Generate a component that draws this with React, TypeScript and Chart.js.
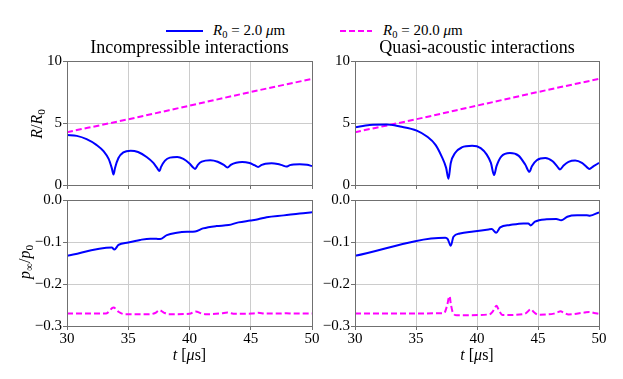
import React, { useEffect, useRef } from "react";
import { Chart, registerables } from "chart.js";

Chart.register(...registerables);

// ---------------- data ----------------
const tIncSmall = [30, 30.8, 31.6, 32.4, 33.0, 33.4, 33.65, 33.8, 33.92, 34.2, 34.6, 35.2, 35.8, 36.5, 37.05, 37.35, 37.55, 37.68, 38.0, 38.4, 39.0, 39.5, 40.0, 40.3, 40.46, 40.7, 41.0, 41.7, 42.3, 42.8, 43.1, 43.4, 43.8, 44.3, 44.9, 45.3, 45.6, 45.9, 46.2, 46.7, 47.2, 47.6, 47.9, 48.2, 48.5, 49.0, 49.6, 50];
const rIncSmall = [4.04, 3.96, 3.70, 3.24, 2.71, 2.10, 1.38, 0.85, 1.38, 2.18, 2.63, 2.77, 2.66, 2.26, 1.78, 1.38, 1.12, 1.46, 1.97, 2.21, 2.26, 2.10, 1.73, 1.41, 1.30, 1.65, 1.88, 2.0, 1.88, 1.62, 1.41, 1.65, 1.80, 1.86, 1.77, 1.60, 1.46, 1.62, 1.72, 1.76, 1.70, 1.58, 1.49, 1.60, 1.66, 1.68, 1.63, 1.52];

const tIncLarge = [30, 35, 40, 45, 50];
const rIncLarge = [4.26, 5.3, 6.4, 7.5, 8.56];

const tQaSmall = [30, 31.2, 32.6, 33.7, 35.06, 35.9, 36.6, 37.1, 37.47, 37.66, 37.85, 38.2, 38.75, 39.6, 40.3, 40.8, 41.14, 41.4, 41.6, 42.0, 42.7, 43.4, 43.95, 44.3, 44.5, 44.9, 45.6, 46.2, 46.6, 46.8, 47.1, 47.5, 48.05, 48.6, 49.0, 49.2, 49.56, 50];
const rQaSmall = [4.65, 4.84, 4.87, 4.71, 4.39, 3.91, 3.24, 2.31, 1.38, 0.5, 1.78, 2.58, 3.03, 3.16, 2.98, 2.45, 1.78, 0.8, 1.52, 2.31, 2.58, 2.37, 1.65, 1.06, 1.52, 2.0, 2.18, 1.91, 1.46, 1.25, 1.57, 1.86, 1.97, 1.78, 1.44, 1.30, 1.52, 1.78];

const tQaLarge = [30, 35, 40, 45, 50];
const rQaLarge = [4.26, 5.3, 6.4, 7.5, 8.56];

const tIncPSmall = [30, 33.65, 33.87, 34.2, 35, 35.97, 36.8, 37.3, 37.6, 38.15, 38.97, 39.8, 40.46, 41.1, 42.2, 43.2, 44.0, 44.96, 45.6, 46.3, 47.7, 49.0, 50];
const pIncSmall = [-0.133, -0.113, -0.118, -0.107, -0.101, -0.095, -0.092, -0.0925, -0.093, -0.0835, -0.078, -0.0756, -0.0748, -0.0676, -0.062, -0.0597, -0.0533, -0.049, -0.046, -0.041, -0.0366, -0.032, -0.0294];

const tIncPLarge = [30, 33.2, 33.8, 34.2, 34.7, 36.7, 37.2, 37.55, 37.9, 38.3, 40.0, 40.5, 41.0, 41.4, 42.6, 43.1, 43.7, 45.1, 45.6, 46.2, 47.4, 47.9, 48.5, 50];
const pIncLarge = [-0.2705, -0.270, -0.256, -0.266, -0.272, -0.272, -0.269, -0.2625, -0.268, -0.272, -0.271, -0.2657, -0.270, -0.272, -0.270, -0.268, -0.271, -0.2705, -0.2685, -0.2705, -0.2705, -0.2695, -0.2705, -0.2705];

const tQaPSmall = [30, 37.4, 37.6, 37.85, 38.07, 38.6, 39.7, 40.95, 41.2, 41.57, 41.9, 42.7, 43.8, 44.2, 44.4, 44.75, 45.7, 46.5, 46.9, 47.4, 48.2, 49.0, 49.25, 50];
const pQaSmall = [-0.133, -0.090, -0.093, -0.109, -0.0875, -0.0796, -0.0748, -0.070, -0.0692, -0.078, -0.0652, -0.0597, -0.0557, -0.0557, -0.0605, -0.0517, -0.046, -0.0453, -0.0485, -0.0398, -0.0366, -0.0366, -0.0374, -0.0294];

const tQaPLarge = [30, 37.3, 37.52, 37.75, 37.85, 38.0, 38.35, 41.0, 41.3, 41.6, 41.8, 42.1, 43.9, 44.15, 44.4, 44.7, 45.0, 46.3, 46.6, 46.85, 47.1, 47.5, 48.8, 49.2, 49.6, 50];
const pQaPLarge = [-0.2705, -0.2695, -0.2546, -0.229, -0.2466, -0.2665, -0.2745, -0.2725, -0.265, -0.252, -0.263, -0.274, -0.271, -0.266, -0.260, -0.268, -0.273, -0.2705, -0.2675, -0.265, -0.268, -0.2725, -0.268, -0.2665, -0.269, -0.271];

const xTicks = [30, 35, 40, 45, 50];
const rTicks = [0, 5, 10];
const pTicks = [-0.3, -0.2, -0.1, 0.0];

const legendLabels = ["2.0", "20.0"];
const panelTitles = ["Incompressible interactions", "Quasi-acoustic interactions"];

// ---------------- style ----------------
const FONT = "'Liberation Serif', 'DejaVu Serif', 'Noto Serif', 'Times New Roman', Times, serif";
const BLUE = "#0000ff";
const MAGENTA = "#ff00ff";
const SPINE = "#707070";
const GRID = "#cccccc";

const pts = (t: number[], v: number[]) => t.map((x, i) => ({ x, y: v[i] }));

const framePlugin = {
  id: "frame",
  afterDatasetsDraw(chart: any) {
    const { ctx, chartArea: a } = chart;
    ctx.save();
    ctx.strokeStyle = SPINE;
    ctx.lineWidth = 1;
    ctx.strokeRect(Math.round(a.left) + 0.5, Math.round(a.top) + 0.5, Math.round(a.right - a.left), Math.round(a.bottom - a.top));
    ctx.restore();
  },
};

type PanelProps = {
  left: number; top: number; width: number; height: number;
  area: { L: number; T: number; R: number; B: number };
  series: { t: number[]; v: number[]; color: string; dash: boolean }[];
  yTicks: number[];
  showX: boolean;
  fmt: (v: number) => string;
};

function Panel({ left, top, width, height, area, series, yTicks, showX, fmt }: PanelProps) {
  const ref = useRef<HTMLCanvasElement | null>(null);
  useEffect(() => {
    if (!ref.current) return;
    const chart = new Chart(ref.current, {
      type: "line",
      data: {
        datasets: series.map((s) => ({
          data: pts(s.t, s.v),
          borderColor: s.color,
          borderWidth: 2,
          borderDash: s.dash ? [6, 3] : [],
          pointRadius: 0,
          fill: false,
          cubicInterpolationMode: "monotone" as const,
        })),
      },
      options: {
        animation: false,
        responsive: false,
        devicePixelRatio: 1,
        parsing: false as any,
        layout: { padding: { top: area.T - top, right: left + width - area.R, left: 0, bottom: 0 } },
        plugins: { legend: { display: false }, tooltip: { enabled: false } },
        scales: {
          x: {
            type: "linear",
            min: xTicks[0],
            max: xTicks[xTicks.length - 1],
            afterBuildTicks: (s: any) => { s.ticks = xTicks.map((v) => ({ value: v })); },
            ticks: { display: showX, color: "#000", font: { family: FONT, size: 15 }, padding: 0, maxRotation: 0, autoSkip: false, callback: (v: any) => String(v) },
            grid: { color: GRID, lineWidth: 1, tickColor: SPINE, tickLength: 4, tickWidth: 1 },
            border: { display: false },
            afterFit: (s: any) => { s.height = top + height - area.B; },
          },
          y: {
            type: "linear",
            min: yTicks[0],
            max: yTicks[yTicks.length - 1],
            afterBuildTicks: (s: any) => { s.ticks = yTicks.map((v) => ({ value: v })); },
            ticks: { color: "#000", font: { family: FONT, size: 15 }, padding: 1, autoSkip: false, callback: (v: any) => fmt(Number(v)) },
            grid: { color: GRID, lineWidth: 1, tickColor: SPINE, tickLength: 4, tickWidth: 1 },
            border: { display: false },
            afterFit: (s: any) => { s.width = area.L - left; },
          },
        },
      },
      plugins: [framePlugin],
    } as any);
    return () => chart.destroy();
  }, []);
  return (
    <canvas
      ref={ref}
      width={width}
      height={height}
      style={{ position: "absolute", left, top, width, height }}
    />
  );
}

const fmtR = (v: number) => String(Math.round(v));
const fmtP = (v: number) => {
  const s = (Math.abs(v) < 1e-9 ? 0 : v).toFixed(1);
  return s.replace("-", "\u2212");
};

const subStyle: React.CSSProperties = { fontSize: "0.7em", verticalAlign: "-0.28em", lineHeight: 0 };

function Text({ x, y, size, align, children }: { x: number; y: number; size: number; align: "left" | "center"; children: any }) {
  // y is the baseline
  return (
    <div
      style={{
        position: "absolute",
        left: x,
        top: y - size * 0.84,
        fontFamily: FONT,
        fontSize: size,
        lineHeight: `${size}px`,
        whiteSpace: "nowrap",
        color: "#000",
        transform: align === "center" ? "translateX(-50%)" : undefined,
      }}
    >
      {children}
    </div>
  );
}

function VText({ cx, cy, size, children }: { cx: number; cy: number; size: number; children: any }) {
  return (
    <div
      style={{
        position: "absolute",
        left: cx,
        top: cy,
        fontFamily: FONT,
        fontSize: size,
        lineHeight: `${size}px`,
        whiteSpace: "nowrap",
        color: "#000",
        transform: "translate(-50%, -50%) rotate(-90deg)",
      }}
    >
      {children}
    </div>
  );
}

export default function App() {
  const TL = { L: 67, T: 61, R: 312, B: 187 };
  const TR = { L: 355, T: 61, R: 599, B: 187 };
  const BL = { L: 67, T: 200, R: 312, B: 326 };
  const BR = { L: 355, T: 200, R: 599, B: 326 };
  return (
    <div style={{ position: "fixed", left: 0, top: 0, width: 623, height: 379, background: "#fff", overflow: "hidden" }}>
      <Panel left={0} top={50} width={330} height={145} area={TL} yTicks={rTicks} showX={false} fmt={fmtR}
        series={[{ t: tIncSmall, v: rIncSmall, color: BLUE, dash: false }, { t: tIncLarge, v: rIncLarge, color: MAGENTA, dash: true }]} />
      <Panel left={320} top={50} width={303} height={145} area={TR} yTicks={rTicks} showX={false} fmt={fmtR}
        series={[{ t: tQaSmall, v: rQaSmall, color: BLUE, dash: false }, { t: tQaLarge, v: rQaLarge, color: MAGENTA, dash: true }]} />
      <Panel left={0} top={190} width={330} height={189} area={BL} yTicks={pTicks} showX={true} fmt={fmtP}
        series={[{ t: tIncPSmall, v: pIncSmall, color: BLUE, dash: false }, { t: tIncPLarge, v: pIncLarge, color: MAGENTA, dash: true }]} />
      <Panel left={320} top={190} width={303} height={189} area={BR} yTicks={pTicks} showX={true} fmt={fmtP}
        series={[{ t: tQaPSmall, v: pQaSmall, color: BLUE, dash: false }, { t: tQaPLarge, v: pQaPLarge, color: MAGENTA, dash: true }]} />

      {/* legend */}
      <div style={{ position: "absolute", left: 166, top: 30, width: 37, height: 2, background: BLUE }} />
      <Text x={213} y={36} size={15} align="left">
        <i>R</i><span style={subStyle}>0</span>&nbsp;=&nbsp;{legendLabels[0]}&nbsp;<i>μ</i>m
      </Text>
      <div style={{ position: "absolute", left: 340, top: 30, width: 32, height: 2, background: `repeating-linear-gradient(90deg, ${MAGENTA} 0 6px, transparent 6px 9px)` }} />
      <Text x={383} y={36} size={15} align="left">
        <i>R</i><span style={subStyle}>0</span>&nbsp;=&nbsp;{legendLabels[1]}&nbsp;<i>μ</i>m
      </Text>

      {/* titles */}
      <Text x={189.5} y={53} size={18} align="center">{panelTitles[0]}</Text>
      <Text x={477} y={53} size={18} align="center">{panelTitles[1]}</Text>

      {/* axis labels */}
      <Text x={189.5} y={360} size={16} align="center"><i>t</i> [<i>μ</i>s]</Text>
      <Text x={477} y={360} size={16} align="center"><i>t</i> [<i>μ</i>s]</Text>
      <VText cx={37} cy={124} size={16}><i>R</i>/<i>R</i><span style={subStyle}>0</span></VText>
      <VText cx={25} cy={262} size={16}><i>p</i><span style={subStyle}>∞</span>/<i>p</i><span style={subStyle}>0</span></VText>
    </div>
  );
}
